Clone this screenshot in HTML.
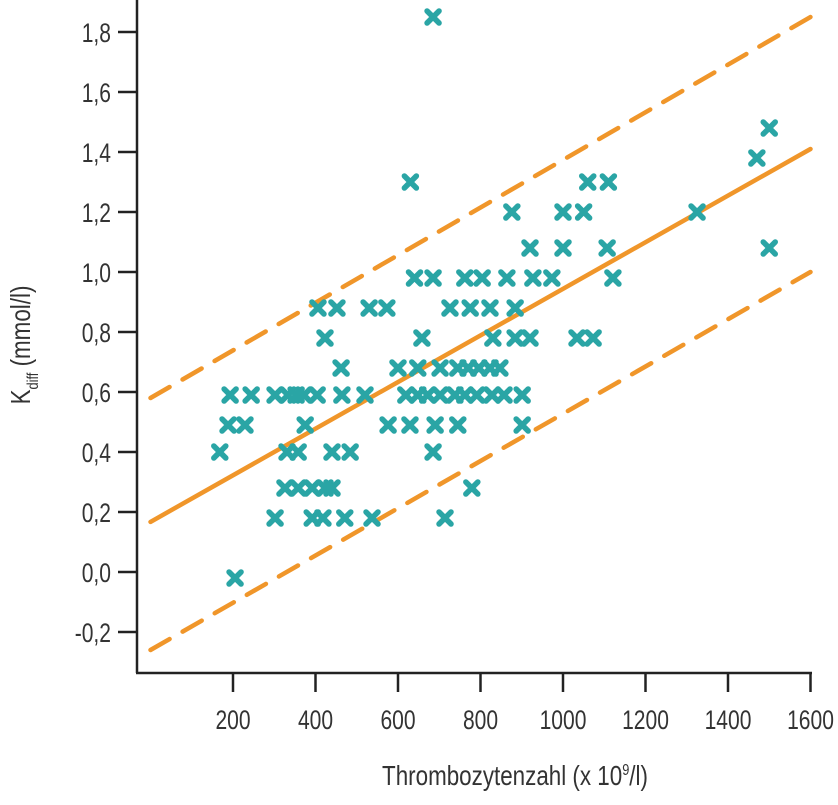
<!DOCTYPE html>
<html><head><meta charset="utf-8"><style>
body{margin:0;background:#fff;}
svg text{font-family:"Liberation Sans",sans-serif;fill:#333;}
</style></head><body>
<svg id="chart" width="838" height="800" xmlns="http://www.w3.org/2000/svg"></svg>
<script>
const xTicks=[200,400,600,800,1000,1200,1400,1600];
const yTicks=[-0.2,0.0,0.2,0.4,0.6,0.8,1.0,1.2,1.4,1.6,1.8];
const ptX=[685,1500,1470,630,1060,1110,876,1000,1050,1325,920,1000,1107,1500,640,685,762,804,864,927,973,1121,406,452,530,573,726,775,823,884,423,658,830,884,920,1034,1073,462,600,648,702,745,770,796,823,847,193,244,302,333,353,372,404,464,520,619,648,672,702,738,762,791,828,857,901,188,229,375,576,629,690,745,901,168,331,358,440,484,685,326,358,392,423,440,779,302,392,418,471,537,714,205];
const ptY=[1.85,1.48,1.38,1.30,1.30,1.30,1.20,1.20,1.20,1.20,1.08,1.08,1.08,1.08,0.98,0.98,0.98,0.98,0.98,0.98,0.98,0.98,0.88,0.88,0.88,0.88,0.88,0.88,0.88,0.88,0.78,0.78,0.78,0.78,0.78,0.78,0.78,0.68,0.68,0.68,0.68,0.68,0.68,0.68,0.68,0.68,0.59,0.59,0.59,0.59,0.59,0.59,0.59,0.59,0.59,0.59,0.59,0.59,0.59,0.59,0.59,0.59,0.59,0.59,0.59,0.49,0.49,0.49,0.49,0.49,0.49,0.49,0.49,0.40,0.40,0.40,0.40,0.40,0.40,0.28,0.28,0.28,0.28,0.28,0.28,0.18,0.18,0.18,0.18,0.18,0.18,-0.02];
const lineIntercepts=[0.167,0.58,-0.26];
const lineEnds=[1.41,1.85,1.0];
const lineNames=['regression-line','upper-limit-line','lower-limit-line'];
const svg=document.getElementById('chart');
const NS='http://www.w3.org/2000/svg';
const X=v=>233+(v-200)*0.4125;
const Y=v=>572-v*300;
function el(t,a,p){const e=document.createElementNS(NS,t);for(const k in a)e.setAttribute(k,a[k]);(p||svg).appendChild(e);return e;}
let ax=el('line',{x1:137,y1:0,x2:137,y2:673,stroke:'#222','stroke-width':2.5});


ax=el('line',{x1:136,y1:673,x2:812,y2:673,stroke:'#222','stroke-width':2.5});


xTicks.forEach(t=>{
 const l=el('line',{x1:X(t),y1:673,x2:X(t),y2:692,stroke:'#222','stroke-width':2.5});
 
 
 const tx=el('text',{x:0,y:0,'text-anchor':'middle','font-size':27,transform:`translate(${X(t)},729) scale(0.78,1)`});
 tx.textContent=t;
 
 
});
yTicks.forEach(t=>{
 const l=el('line',{x1:118,y1:Y(t),x2:137,y2:Y(t),stroke:'#222','stroke-width':2.5});
 
 
 const tx=el('text',{x:0,y:0,'text-anchor':'end','font-size':27,transform:`translate(111,${Y(t)+10}) scale(0.78,1)`});
 tx.textContent=t.toFixed(1).replace('.',',');
 
 
});
lineIntercepts.forEach((b,i)=>{
 const a={x1:X(0),y1:Y(b),x2:X(1600),y2:Y(lineEnds[i]),stroke:'#f0962a','stroke-width':4.5,'stroke-linecap':'round'};
 if(i>0)a['stroke-dasharray']='22 15';
 const l=el('line',a);
 
 
});
ptX.forEach((v,i)=>{
 const cx=X(v),cy=Y(ptY[i]),s=6;
 const p=el('path',{d:`M${cx-s} ${cy-s}L${cx+s} ${cy+s}M${cx+s} ${cy-s}L${cx-s} ${cy+s}`,stroke:'#2aa5a5','stroke-width':5.5,'stroke-linecap':'round'});
 
 
});
let t=el('text',{x:0,y:0,'text-anchor':'middle','font-size':28,transform:'translate(515,785) scale(0.8,1)'});
t.innerHTML='Thrombozytenzahl (x 10<tspan dy="-10" font-size="16">9</tspan><tspan dy="10">/l)</tspan>';


t=el('text',{x:0,y:0,'text-anchor':'middle','font-size':28,transform:'translate(30,345) rotate(-90) scale(0.8,1)'});
t.innerHTML='K<tspan dy="8" font-size="16">diff</tspan><tspan dy="-8"> (mmol/l)</tspan>';


</script>
</body></html>
